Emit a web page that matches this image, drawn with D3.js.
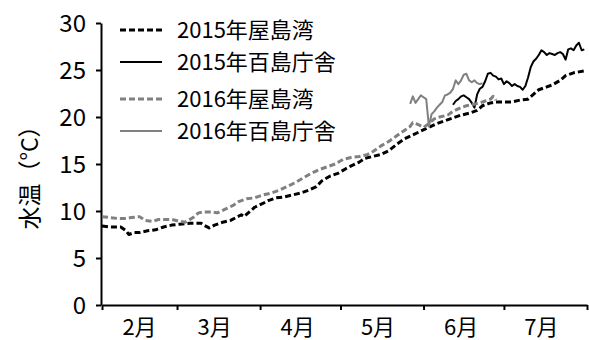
<!DOCTYPE html>
<html>
<head>
<meta charset="utf-8">
<script src="https://cdn.jsdelivr.net/npm/d3@7/dist/d3.min.js"></script>
<style>
  html, body { margin: 0; padding: 0; background: #fff; }
  svg { display: block; }
  text { font-family: "Liberation Sans Narrow", "Noto Sans CJK JP", sans-serif; fill: #000; }
</style>
</head>
<body>
<svg id="chart" width="589" height="340"></svg>
<script>
// ---- data -------------------------------------------------------------
// 2015 屋島湾 (water temperature, °C)
const yashima2015Dates = ["2/1","2/4","2/8","2/10","2/11","2/13","2/15","2/18","2/21","2/24","2/27",
  "3/2","3/6","3/10","3/11","3/13","3/15","3/18","3/21","3/23","3/25","3/26","3/28","3/30",
  "4/2","4/4","4/7","4/10","4/13","4/16","4/19","4/22","4/24","4/27","4/30",
  "5/3","5/5","5/8","5/10","5/13","5/16","5/19","5/22","5/25","5/28","5/31",
  "6/3","6/6","6/9","6/12","6/15","6/18","6/21","6/23","6/26","6/28",
  "7/1","7/4","7/7","7/10","7/12","7/14","7/17","7/19","7/22","7/24","7/27","7/29","7/31"];
const yashima2015Values = [8.4,8.3,8.3,7.9,7.5,7.7,7.7,7.9,8.0,8.3,8.5,
  8.6,8.7,8.7,8.5,8.2,8.5,8.8,9.0,9.3,9.6,9.4,9.9,10.4,
  10.8,11.1,11.4,11.5,11.7,11.9,12.2,12.6,13.2,13.7,14.0,
  14.5,14.8,15.2,15.6,15.8,16.0,16.4,17.1,17.7,18.1,18.5,
  18.9,19.3,19.6,19.9,20.2,20.4,20.7,21.2,21.5,21.6,
  21.6,21.6,21.8,21.9,22.4,22.9,23.2,23.4,23.9,24.4,24.7,24.8,24.9];

// 2015 百島庁舎
const momoshima2015Dates = ["6/12","6/13","6/14","6/15","6/16","6/17","6/18","6/19","6/20","6/21",
  "6/22","6/23","6/24","6/25","6/26","6/27","6/28","6/29","6/30",
  "7/1","7/2","7/3","7/4","7/5","7/6","7/7","7/8","7/9","7/10","7/11","7/12","7/13","7/14","7/15",
  "7/16","7/17","7/18","7/19","7/20","7/21","7/22","7/23","7/24","7/25","7/26","7/27","7/28","7/29","7/30","7/31"];
const momoshima2015Values = [21.3,21.7,21.9,22.2,22.3,22.1,21.9,21.5,21.0,22.4,
  23.0,23.2,23.8,24.6,24.7,24.4,24.3,24.0,24.1,
  23.5,23.8,23.6,23.3,23.5,23.3,23.2,22.9,23.3,24.2,25.3,25.9,26.2,26.6,27.1,
  26.9,26.6,26.8,26.7,26.6,26.8,26.9,26.7,26.1,27.2,27.3,27.1,27.6,27.9,27.1,27.2];

// 2016 屋島湾
const yashima2016Dates = ["2/1","2/4","2/7","2/10","2/12","2/15","2/17","2/20","2/22","2/25","2/27",
  "3/2","3/4","3/7","3/9","3/11","3/14","3/16","3/19","3/22","3/24","3/27","3/30",
  "4/2","4/5","4/8","4/11","4/14","4/17","4/20","4/23","4/26","4/29",
  "5/2","5/5","5/8","5/11","5/13","5/16","5/19","5/22","5/25","5/27","5/28","5/30",
  "6/1","6/3","6/5","6/7","6/10","6/12","6/15","6/17","6/19","6/22","6/24","6/26","6/27","6/28"];
const yashima2016Values = [9.4,9.3,9.2,9.2,9.3,9.4,9.0,8.9,9.1,9.1,9.1,
  8.9,8.8,9.3,9.8,9.9,9.9,9.8,10.2,10.6,11.0,11.3,11.4,
  11.7,11.9,12.2,12.6,13.0,13.5,14.0,14.4,14.7,15.0,
  15.5,15.7,15.8,16.0,16.3,16.9,17.4,18.0,18.6,19.0,19.4,19.2,
  18.9,19.3,19.8,20.0,20.2,20.6,21.0,21.2,21.3,21.5,21.7,21.9,22.2,21.8];

// 2016 百島庁舎
const momoshima2016Dates = ["5/27","5/28","5/29","5/30","5/31","6/1","6/2","6/3","6/4","6/5",
  "6/6","6/7","6/8","6/9","6/10","6/11","6/12","6/13","6/14","6/15",
  "6/16","6/17","6/18","6/19","6/20","6/21","6/22","6/23"];
const momoshima2016Values = [21.4,22.2,21.5,21.9,22.3,22.1,21.9,19.0,20.3,20.6,
  21.0,21.3,21.6,22.3,22.4,22.6,23.0,23.9,23.5,23.9,
  24.5,24.6,23.9,23.7,23.9,23.6,23.5,23.6];

const seriesNames = ["2015年屋島湾", "2015年百島庁舎", "2016年屋島湾", "2016年百島庁舎"];
const monthStarts = ["2/1","3/1","4/1","5/1","6/1","7/1","8/1"];
const monthLabels = ["2月","3月","4月","5月","6月","7月"];
const monthLabelDays = ["2/15","3/15","4/15","5/15","6/15","7/15"];
const yTicks = [0, 5, 10, 15, 20, 25, 30];
const yTitle = "水温（°C）";

// ---- setup ------------------------------------------------------------
const parse = d3.timeParse("%m/%d");   // month/day on one common calendar year
const svg = d3.select("#chart");

const plot = { left: 102, right: 587, top: 23, bottom: 305 };

const x = d3.scaleTime()
  .domain([parse(monthStarts[0]), parse(monthStarts[monthStarts.length - 1])])
  .range([plot.left, plot.right]);
const y = d3.scaleLinear().domain([0, 30]).range([plot.bottom, plot.top]);

const styles = [
  { color: "#000000", width: 3, dash: "6,3" },
  { color: "#000000", width: 2, dash: null },
  { color: "#808080", width: 3, dash: "6,3" },
  { color: "#808080", width: 2, dash: null }
];

const series = [
  { dates: yashima2015Dates, values: yashima2015Values },
  { dates: momoshima2015Dates, values: momoshima2015Values },
  { dates: yashima2016Dates, values: yashima2016Values },
  { dates: momoshima2016Dates, values: momoshima2016Values }
].map((s, i) => ({
  name: seriesNames[i],
  style: styles[i],
  points: s.dates.map((d, j) => ({ date: parse(d), value: s.values[j] }))
}));

// ---- axes -------------------------------------------------------------
const yAxis = svg.append("g")
  .attr("transform", `translate(${plot.left - 1},0)`)
  .call(d3.axisLeft(y).tickValues(yTicks).tickSize(5).tickSizeOuter(0).tickPadding(10));
yAxis.selectAll("text").style("font-size", "24px").attr("dy", "0.36em");

const xAxis = svg.append("g")
  .attr("transform", `translate(0,${plot.bottom})`)
  .call(d3.axisBottom(x).tickValues(monthStarts.map(parse)).tickSize(5).tickSizeOuter(0).tickFormat(""));

[yAxis, xAxis].forEach(g => {
  g.select(".domain").attr("stroke", "#000").attr("stroke-width", 2);
  g.selectAll(".tick line").attr("stroke", "#000").attr("stroke-width", 2);
});

svg.append("g").selectAll("text")
  .data(monthLabels)
  .join("text")
  .attr("x", (d, i) => x(parse(monthLabelDays[i])))
  .attr("y", 335)
  .attr("text-anchor", "middle")
  .style("font-size", "22px")
  .text(d => d);

svg.append("text")
  .attr("transform", `translate(38,${(plot.top + plot.bottom) / 2 + 8}) rotate(-90)`)
  .attr("text-anchor", "middle")
  .style("font-size", "23px")
  .text(yTitle);

// ---- lines ------------------------------------------------------------
const line = d3.line().x(d => x(d.date)).y(d => y(d.value));

svg.append("g").selectAll("path")
  .data(series)
  .join("path")
  .attr("d", d => line(d.points))
  .attr("fill", "none")
  .attr("stroke", d => d.style.color)
  .attr("stroke-width", d => d.style.width)
  .attr("stroke-dasharray", d => d.style.dash)
  .attr("stroke-linejoin", "round");

// ---- legend -----------------------------------------------------------
const legendRows = [30, 62, 99, 131];
const legend = svg.append("g");
series.forEach((s, i) => {
  legend.append("line")
    .attr("x1", 120).attr("x2", 162)
    .attr("y1", legendRows[i]).attr("y2", legendRows[i])
    .attr("stroke", s.style.color)
    .attr("stroke-width", s.style.width)
    .attr("stroke-dasharray", s.style.dash);
  legend.append("text")
    .attr("x", 177).attr("y", legendRows[i])
    .attr("dy", "0.36em")
    .style("font-size", "22px")
    .text(s.name);
});
</script>
</body>
</html>
